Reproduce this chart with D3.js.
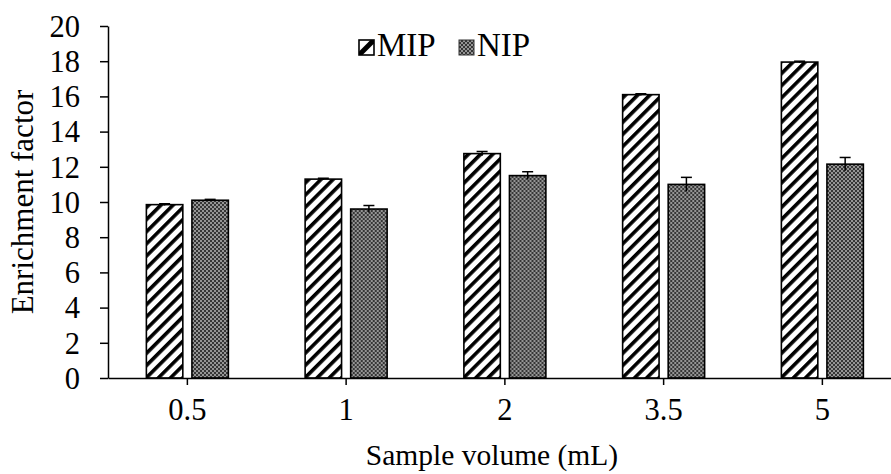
<!DOCTYPE html>
<html>
<head>
<meta charset="utf-8">
<script src="https://cdn.jsdelivr.net/npm/d3@7"></script>
<style>
  html, body { margin: 0; padding: 0; background: #fff; }
  svg { display: block; }
  text { font-family: "Liberation Serif", "Times New Roman", serif; fill: #000; }
</style>
</head>
<body>
<svg id="chart" width="891" height="474"></svg>
<script>
// Enrichment factor vs. sample volume for MIP and NIP sorbents
const categories = ["0.5", "1", "2", "3.5", "5"];
const series = ["MIP", "NIP"];
const mipValues = [9.85, 11.3, 12.75, 16.1, 17.95];
const mipErrors = [0.05, 0.05, 0.12, 0.05, 0.05];
const nipValues = [10.1, 9.6, 11.5, 11.0, 12.15];
const nipErrors = [0.05, 0.2, 0.22, 0.4, 0.38];
const yTicks = [0, 2, 4, 6, 8, 10, 12, 14, 16, 18, 20];

const W = 891, H = 474;
const margin = { left: 108, top: 26, bottom: 96 };
const plotBottom = H - margin.bottom;
const bandWidth = 158.75;
const tickFont = 30.5, titleFont = 29.5, legendFont = 33;

const svg = d3.select("#chart");
const defs = svg.append("defs");

// diagonal hatch for MIP
const hatch = defs.append("pattern")
  .attr("id", "hatch")
  .attr("patternUnits", "userSpaceOnUse")
  .attr("width", 8.6).attr("height", 8.6)
  .attr("patternTransform", "rotate(45)");
hatch.append("rect").attr("width", 8.6).attr("height", 8.6).attr("fill", "#fff");
hatch.append("rect").attr("width", 3.6).attr("height", 8.6).attr("fill", "#000");

// fine checker for NIP
const checker = defs.append("pattern")
  .attr("id", "checker")
  .attr("patternUnits", "userSpaceOnUse")
  .attr("width", 4).attr("height", 4);
checker.append("rect").attr("width", 4).attr("height", 4).attr("fill", "#363636");
checker.append("rect").attr("width", 2).attr("height", 2).attr("fill", "#959595");
checker.append("rect").attr("x", 2).attr("y", 2).attr("width", 2).attr("height", 2).attr("fill", "#959595");

const x0 = d3.scaleBand()
  .domain(categories)
  .range([margin.left, margin.left + bandWidth * categories.length])
  .paddingInner(0).paddingOuter(0);

const x1 = d3.scaleBand()
  .domain(series)
  .range([bandWidth / 2 - 41, bandWidth / 2 + 41])
  .paddingInner(0.2);

const y = d3.scaleLinear().domain([0, 20]).range([plotBottom, margin.top]);

const rows = categories.map((c, i) => ({
  cat: c,
  items: [
    { key: "MIP", v: mipValues[i], e: mipErrors[i] },
    { key: "NIP", v: nipValues[i], e: nipErrors[i] }
  ]
}));

const groups = svg.append("g").selectAll("g")
  .data(rows).join("g")
  .attr("transform", d => `translate(${x0(d.cat)},0)`);

groups.selectAll("rect")
  .data(d => d.items).join("rect")
  .attr("x", d => x1(d.key))
  .attr("y", d => y(d.v))
  .attr("width", x1.bandwidth())
  .attr("height", d => y(0) - y(d.v))
  .attr("fill", d => d.key === "MIP" ? "url(#hatch)" : "url(#checker)")
  .attr("stroke", "#000")
  .attr("stroke-width", 1.6);

// error bars
const eb = groups.selectAll("g.err")
  .data(d => d.items).join("g").attr("class", "err")
  .attr("stroke", "#000").attr("stroke-width", 1.5);
eb.append("line")
  .attr("x1", d => x1(d.key) + x1.bandwidth() / 2)
  .attr("x2", d => x1(d.key) + x1.bandwidth() / 2)
  .attr("y1", d => y(d.v - d.e))
  .attr("y2", d => y(d.v + d.e));
eb.append("line")
  .attr("x1", d => x1(d.key) + x1.bandwidth() / 2 - 5.5)
  .attr("x2", d => x1(d.key) + x1.bandwidth() / 2 + 5.5)
  .attr("y1", d => y(d.v + d.e))
  .attr("y2", d => y(d.v + d.e));

// y axis
const yAxis = svg.append("g")
  .attr("transform", `translate(${margin.left},0)`)
  .call(d3.axisLeft(y).tickValues(yTicks).tickSize(8).tickSizeOuter(0).tickPadding(20));
yAxis.select(".domain").attr("stroke", "#000").attr("stroke-width", 1.5);
yAxis.selectAll(".tick line").attr("stroke", "#000").attr("stroke-width", 1.5);
yAxis.selectAll(".tick text").attr("font-size", tickFont).attr("dy", "0.34em");

// x axis (line along y = 0 with ticks at category centers)
const xAxis = svg.append("g")
  .attr("transform", `translate(0,${plotBottom})`)
  .call(d3.axisBottom(x0).tickSize(7).tickSizeOuter(0).tickPadding(13));
xAxis.select(".domain").attr("stroke", "#000").attr("stroke-width", 1.5);
xAxis.selectAll(".tick line").attr("stroke", "#000").attr("stroke-width", 1.5);
xAxis.selectAll(".tick text").attr("font-size", tickFont);

// axis titles
svg.append("text")
  .attr("x", 492).attr("y", 465)
  .attr("text-anchor", "middle")
  .attr("font-size", titleFont)
  .text("Sample volume (mL)");

svg.append("text")
  .attr("transform", `translate(33,${(margin.top + plotBottom) / 2}) rotate(-90)`)
  .attr("text-anchor", "middle")
  .attr("font-size", 31)
  .text("Enrichment factor");

// legend
const legend = svg.append("g");
const mipIcon = legend.append("g").attr("transform", "translate(359,40)");
defs.append("clipPath").attr("id", "iconClip")
  .append("rect").attr("width", 15).attr("height", 15);
mipIcon.append("rect").attr("width", 15).attr("height", 15).attr("fill", "#fff");
mipIcon.append("line")
  .attr("x1", -2).attr("y1", 17).attr("x2", 17).attr("y2", -2)
  .attr("stroke", "#000").attr("stroke-width", 5)
  .attr("clip-path", "url(#iconClip)");
mipIcon.append("rect").attr("width", 15).attr("height", 15)
  .attr("fill", "none").attr("stroke", "#000").attr("stroke-width", 1.6);
legend.append("text").attr("x", 377).attr("y", 56).attr("font-size", legendFont).text("MIP");

const nipIcon = legend.append("g").attr("transform", "translate(459,40)");
nipIcon.append("rect").attr("width", 15).attr("height", 15)
  .attr("fill", "url(#checker)").attr("stroke", "#333").attr("stroke-width", 1);
legend.append("text").attr("x", 477).attr("y", 56).attr("font-size", legendFont).text("NIP");
</script>
</body>
</html>
